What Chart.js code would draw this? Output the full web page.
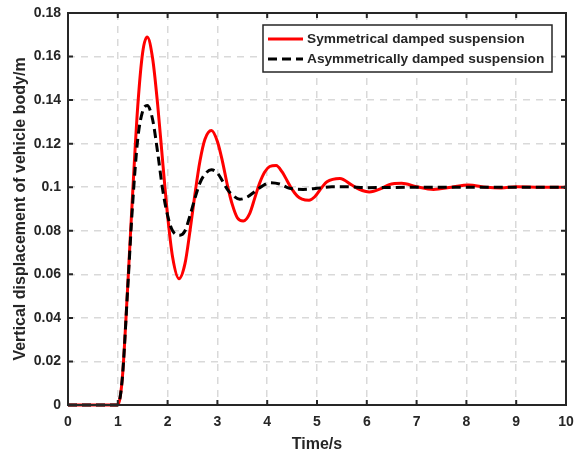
<!DOCTYPE html>
<html>
<head>
<meta charset="utf-8">
<script src="https://cdn.jsdelivr.net/npm/chart.js@4/dist/chart.umd.min.js"></script>
<style>
  html, body { margin: 0; padding: 0; background: #fff; }
  canvas { display: block; }
</style>
</head>
<body>
<canvas id="myChart" width="574" height="454"></canvas>
<script>
// values
const symTime = [0, 0.5, 1.0, 1.05, 1.1, 1.2, 1.3, 1.4, 1.5, 1.59, 1.7, 1.8, 1.9, 2.0, 2.1, 2.23, 2.35, 2.45, 2.55, 2.65, 2.75, 2.88,
  3.0, 3.1, 3.2, 3.3, 3.4, 3.52, 3.65, 3.75, 3.85, 3.95, 4.05, 4.18, 4.3, 4.4, 4.5, 4.6, 4.7, 4.84, 4.95, 5.1, 5.2, 5.46,
  5.7, 5.85, 6.05, 6.3, 6.45, 6.7, 7.0, 7.34, 7.7, 8.04, 8.4, 8.7, 9.0, 9.5, 10];
const symDisp = [0, 0, 0, 0.004, 0.015, 0.055, 0.098, 0.137, 0.162, 0.169, 0.159, 0.138, 0.112, 0.087, 0.068, 0.058, 0.065, 0.080, 0.097, 0.112, 0.122, 0.126,
  0.121, 0.112, 0.101, 0.092, 0.086, 0.0845, 0.088, 0.095, 0.102, 0.107, 0.1095, 0.110, 0.107, 0.103, 0.099, 0.096, 0.0945, 0.094, 0.0955, 0.100, 0.1025, 0.104,
  0.101, 0.099, 0.0978, 0.0995, 0.1012, 0.1018, 0.1002, 0.099, 0.1, 0.101, 0.1, 0.0997, 0.1002, 0.1, 0.1];

const asymTime = [0, 0.5, 1.0, 1.05, 1.1, 1.2, 1.3, 1.4, 1.5, 1.59, 1.7, 1.8, 1.9, 2.0, 2.1, 2.25, 2.35, 2.45, 2.55, 2.65, 2.75, 2.88,
  3.0, 3.1, 3.2, 3.3, 3.45, 3.6, 3.75, 3.9, 4.06, 4.25, 4.45, 4.72, 5.0, 5.3, 5.6, 6.0, 7.0, 8.0, 9.0, 10];
const asymDisp = [0, 0, 0, 0.004, 0.015, 0.054, 0.093, 0.122, 0.135, 0.1375, 0.131, 0.116, 0.099, 0.087, 0.080, 0.078, 0.080, 0.087, 0.095, 0.102, 0.106, 0.108,
  0.1065, 0.103, 0.099, 0.0965, 0.0945, 0.0955, 0.098, 0.1005, 0.1021, 0.1015, 0.0995, 0.099, 0.0995, 0.1002, 0.1002, 0.0998, 0.1, 0.1, 0.1, 0.1];

const seriesNames = ['Symmetrical damped suspension', 'Asymmetrically damped suspension'];
const xTitle = 'Time/s';
const yTitle = 'Vertical displacement of vehicle body/m';

const font = 'Liberation Sans, Arial, sans-serif';
const axisColor = '#262626';
const gridColor = '#d9d9d9';

const toPoints = (xs, ys) => xs.map((x, i) => ({ x, y: ys[i] }));

const boxPlugin = {
  id: 'box',
  afterDraw(chart) {
    const { ctx, chartArea: a, scales: { x, y } } = chart;
    ctx.save();
    ctx.strokeStyle = axisColor;
    ctx.lineWidth = 2;
    ctx.setLineDash([]);
    ctx.beginPath();
    x.ticks.forEach(t => {
      const px = x.getPixelForValue(t.value);
      ctx.moveTo(px, a.bottom); ctx.lineTo(px, a.bottom - 5);
      ctx.moveTo(px, a.top); ctx.lineTo(px, a.top + 5);
    });
    y.ticks.forEach(t => {
      const py = y.getPixelForValue(t.value);
      ctx.moveTo(a.left, py); ctx.lineTo(a.left + 5, py);
      ctx.moveTo(a.right, py); ctx.lineTo(a.right - 5, py);
    });
    ctx.stroke();
    ctx.strokeRect(a.left, a.top, a.right - a.left, a.bottom - a.top);

    // legend box, top right inside the axes
    const lx = a.right - 303, ly = a.top + 12, lw = 289, lh = 47;
    ctx.fillStyle = '#fff';
    ctx.fillRect(lx, ly, lw, lh);
    ctx.lineWidth = 1.5;
    ctx.strokeStyle = axisColor;
    ctx.strokeRect(lx, ly, lw, lh);
    const ds = chart.data.datasets;
    [0, 1].forEach(i => {
      const rowY = ly + 14 + i * 20;
      ctx.strokeStyle = ds[i].borderColor;
      ctx.lineWidth = 3;
      ctx.setLineDash(ds[i].borderDash || []);
      ctx.beginPath();
      ctx.moveTo(lx + 5, rowY); ctx.lineTo(lx + 40, rowY);
      ctx.stroke();
      ctx.setLineDash([]);
      ctx.fillStyle = axisColor;
      ctx.font = 'bold 13.7px ' + font;
      ctx.textBaseline = 'middle';
      ctx.fillText(ds[i].label, lx + 44, rowY);
    });
    ctx.restore();
  }
};

const ctx = document.getElementById('myChart').getContext('2d');

new Chart(ctx, {
  type: 'line',
  data: {
    datasets: [{
      label: seriesNames[0],
      data: toPoints(symTime, symDisp),
      borderColor: '#ff0000',
      borderWidth: 3,
      pointRadius: 0,
      cubicInterpolationMode: 'monotone',
      order: 1,
      clip: 4
    }, {
      label: seriesNames[1],
      data: toPoints(asymTime, asymDisp),
      borderColor: '#000000',
      borderWidth: 3,
      borderDash: [9, 5],
      pointRadius: 0,
      cubicInterpolationMode: 'monotone',
      order: 0,
      clip: 4
    }]
  },
  options: {
    responsive: false,
    animation: false,
    devicePixelRatio: 1,
    layout: { padding: { top: 13, right: 8, left: 11, bottom: 0 } },
    plugins: { legend: { display: false }, tooltip: { enabled: false } },
    scales: {
      x: {
        type: 'linear',
        min: 0, max: 10,
        afterFit: s => { s.height = 49; s.paddingLeft = 0; s.paddingRight = 0; },
        ticks: {
          stepSize: 1,
          color: axisColor,
          font: { family: font, size: 14, weight: 'bold' },
          padding: 9,
          maxRotation: 0
        },
        grid: { color: gridColor, lineWidth: 1.5, drawTicks: false, borderDash: [7, 6] },
        border: { display: false, dash: [7, 6] },
        title: {
          display: true, text: xTitle, color: axisColor,
          font: { family: font, size: 16, weight: 'bold' },
          padding: { top: 0, bottom: 0 }
        }
      },
      y: {
        type: 'linear',
        min: 0, max: 0.18,
        afterFit: s => { s.width = 57; s.paddingTop = 0; s.paddingBottom = 0; },
        ticks: {
          stepSize: 0.02,
          color: axisColor,
          font: { family: font, size: 14, weight: 'bold' },
          padding: 7,
          callback: v => String(parseFloat(v.toFixed(2)))
        },
        grid: { color: gridColor, lineWidth: 1.5, drawTicks: false, borderDash: [7, 6] },
        border: { display: false, dash: [7, 6] },
        title: {
          display: true, text: yTitle, color: axisColor,
          font: { family: font, size: 16, weight: 'bold' },
          padding: { top: 0, bottom: 0 }
        }
      }
    }
  },
  plugins: [boxPlugin]
});
</script>
</body>
</html>
